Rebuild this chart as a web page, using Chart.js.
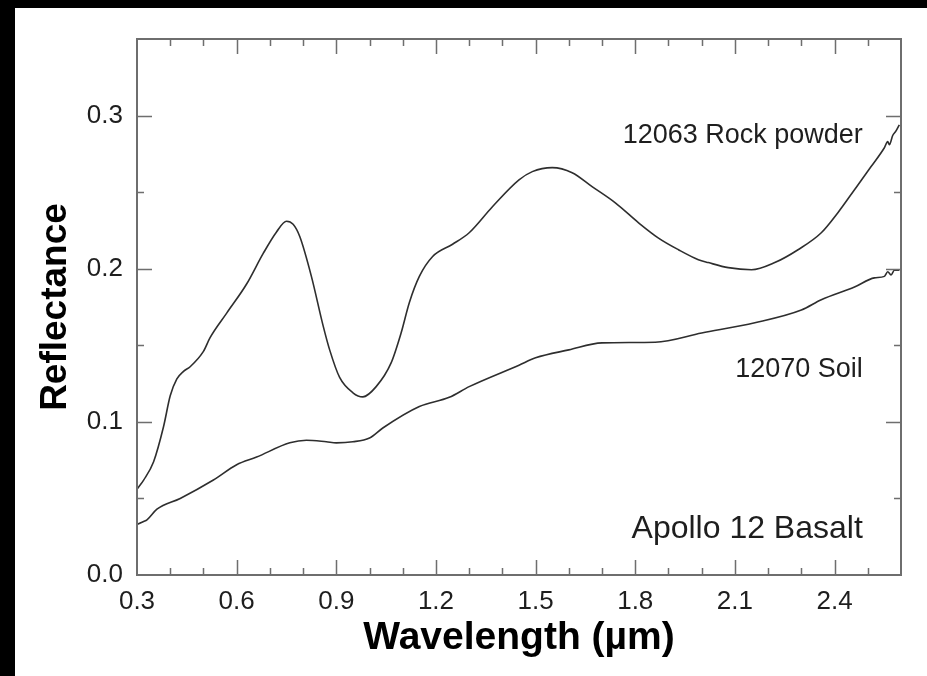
<!DOCTYPE html>
<html>
<head>
<meta charset="utf-8">
<script src="https://cdn.jsdelivr.net/npm/chart.js@4.4.0/dist/chart.umd.min.js"></script>
<style>
  html, body { margin: 0; padding: 0; background: #fff; }
  canvas { display: block; }
</style>
</head>
<body>
<canvas id="spectra" width="927" height="676"></canvas>
<script>
// 12063 rock powder
const rockWavelength = [0.30, 0.32, 0.35, 0.38, 0.40, 0.42, 0.44, 0.46, 0.50, 0.52, 0.57, 0.63, 0.68, 0.72, 0.75, 0.77, 0.79, 0.825, 0.86, 0.88, 0.91, 0.95, 0.98, 1.02, 1.065, 1.095, 1.12, 1.15, 1.19, 1.25, 1.30, 1.37, 1.45, 1.49, 1.55, 1.61, 1.67, 1.74, 1.81, 1.87, 1.93, 1.99, 2.02, 2.08, 2.15, 2.22, 2.29, 2.36, 2.41, 2.46, 2.51, 2.55, 2.56, 2.565, 2.575, 2.585, 2.595];
const rockReflectance = [0.056, 0.062, 0.074, 0.097, 0.117, 0.128, 0.133, 0.136, 0.146, 0.155, 0.171, 0.190, 0.210, 0.224, 0.231, 0.229, 0.221, 0.195, 0.163, 0.147, 0.129, 0.119, 0.1163, 0.123, 0.1385, 0.158, 0.178, 0.195, 0.208, 0.216, 0.2235, 0.2405, 0.258, 0.2634, 0.266, 0.2627, 0.2536, 0.243, 0.230, 0.220, 0.2124, 0.2059, 0.204, 0.2007, 0.1993, 0.204, 0.2124, 0.2235, 0.2366, 0.2516, 0.2667, 0.279, 0.283, 0.281, 0.287, 0.290, 0.294];

// 12070 soil
const soilWavelength = [0.30, 0.32, 0.33, 0.36, 0.43, 0.53, 0.60, 0.66, 0.76, 0.81, 0.87, 0.90, 0.95, 1.00, 1.04, 1.15, 1.24, 1.30, 1.45, 1.50, 1.60, 1.70, 1.86, 2.00, 2.16, 2.30, 2.36, 2.46, 2.52, 2.55, 2.56, 2.57, 2.58, 2.595];
const soilReflectance = [0.033, 0.035, 0.036, 0.043, 0.050, 0.062, 0.072, 0.077, 0.0863, 0.088, 0.087, 0.0863, 0.087, 0.0895, 0.096, 0.110, 0.116, 0.123, 0.137, 0.1418, 0.147, 0.1516, 0.152, 0.158, 0.1647, 0.173, 0.1797, 0.188, 0.194, 0.195, 0.198, 0.196, 0.199, 0.199];

const xTickValues = [0.3, 0.6, 0.9, 1.2, 1.5, 1.8, 2.1, 2.4];
const yTickValues = [0.0, 0.1, 0.2, 0.3];
const noteTexts = ["12063 Rock powder", "12070 Soil", "Apollo 12 Basalt"];

const toPoints = (xs, ys) => xs.map((v, i) => ({ x: v, y: ys[i] }));
const FONT = "'Liberation Sans', Arial, sans-serif";

const framePlugin = {
  id: "frame",
  beforeDraw(chart) {
    const ctx = chart.ctx;
    ctx.save();
    ctx.fillStyle = "#fff";
    ctx.fillRect(0, 0, chart.width, chart.height);
    ctx.fillStyle = "#000";
    ctx.fillRect(0, 0, 15, chart.height);
    ctx.fillRect(0, 0, chart.width, 8);
    ctx.restore();
  },
  afterDraw(chart) {
    const { ctx, chartArea: a, scales: { x, y } } = chart;
    ctx.save();
    ctx.strokeStyle = "#6e6e6e";
    ctx.lineWidth = 2;
    ctx.strokeRect(a.left, a.top, a.right - a.left, a.bottom - a.top);

    // inward ticks on all four sides
    ctx.lineWidth = 1.5;
    ctx.beginPath();
    for (let i = 4; i <= 25; i++) {
      const px = Math.round(x.getPixelForValue(i / 10)) + 0.5;
      const len = i % 3 === 0 ? 15 : 7;
      ctx.moveTo(px, a.bottom); ctx.lineTo(px, a.bottom - len);
      ctx.moveTo(px, a.top); ctx.lineTo(px, a.top + len);
    }
    for (let j = 1; j <= 6; j++) {
      const py = Math.round(y.getPixelForValue(j * 0.05)) + 0.5;
      const len = j % 2 === 0 ? 15 : 7;
      ctx.moveTo(a.left, py); ctx.lineTo(a.left + len, py);
      ctx.moveTo(a.right, py); ctx.lineTo(a.right - len, py);
    }
    ctx.stroke();

    // curve labels
    ctx.fillStyle = "#1e1e1e";
    ctx.textAlign = "right";
    ctx.textBaseline = "alphabetic";
    const nx = x.getPixelForValue(2.485);
    ctx.font = "27px " + FONT;
    ctx.fillText(noteTexts[0], nx, y.getPixelForValue(0.2824));
    ctx.fillText(noteTexts[1], nx, y.getPixelForValue(0.1294));
    ctx.font = "32px " + FONT;
    ctx.fillText(noteTexts[2], nx, y.getPixelForValue(0.0242));
    ctx.restore();
  }
};

new Chart(document.getElementById("spectra"), {
  type: "line",
  data: {
    datasets: [
      {
        label: "12063 Rock powder",
        data: toPoints(rockWavelength, rockReflectance),
        borderColor: "#2e2e2e",
        borderWidth: 1.6,
        pointRadius: 0,
        cubicInterpolationMode: "monotone",
        fill: false
      },
      {
        label: "12070 Soil",
        data: toPoints(soilWavelength, soilReflectance),
        borderColor: "#2e2e2e",
        borderWidth: 1.6,
        pointRadius: 0,
        cubicInterpolationMode: "monotone",
        fill: false
      }
    ]
  },
  options: {
    responsive: false,
    animation: false,
    layout: { padding: { top: 39, right: 26, left: 0, bottom: 0 } },
    plugins: { legend: { display: false }, tooltip: { enabled: false } },
    scales: {
      x: {
        type: "linear",
        min: 0.3,
        max: 2.6,
        border: { display: false },
        grid: { display: false, drawTicks: false },
        afterBuildTicks: (scale) => { scale.ticks = xTickValues.map((v) => ({ value: v })); },
        afterFit: (scale) => { scale.height = 101; },
        ticks: {
          callback: (v) => Number(v).toFixed(1),
          font: { family: FONT, size: 26 },
          color: "#1e1e1e",
          padding: 11,
          maxRotation: 0,
          autoSkip: false
        },
        title: {
          display: true,
          text: "Wavelength (\u00b5m)",
          font: { family: FONT, size: 39, weight: "bold" },
          color: "#000",
          padding: { top: 0, bottom: 14 }
        }
      },
      y: {
        type: "linear",
        min: 0,
        max: 0.35,
        border: { display: false },
        grid: { display: false, drawTicks: false },
        afterBuildTicks: (scale) => { scale.ticks = yTickValues.map((v) => ({ value: v })); },
        afterFit: (scale) => { scale.width = 137; },
        ticks: {
          callback: (v) => Number(v).toFixed(1),
          font: { family: FONT, size: 26 },
          color: "#1e1e1e",
          padding: 14,
          autoSkip: false
        },
        title: {
          display: true,
          text: "Reflectance",
          font: { family: FONT, size: 37, weight: "bold" },
          color: "#000",
          padding: { top: 34, bottom: 0 }
        }
      }
    }
  },
  plugins: [framePlugin]
});
</script>
</body>
</html>
